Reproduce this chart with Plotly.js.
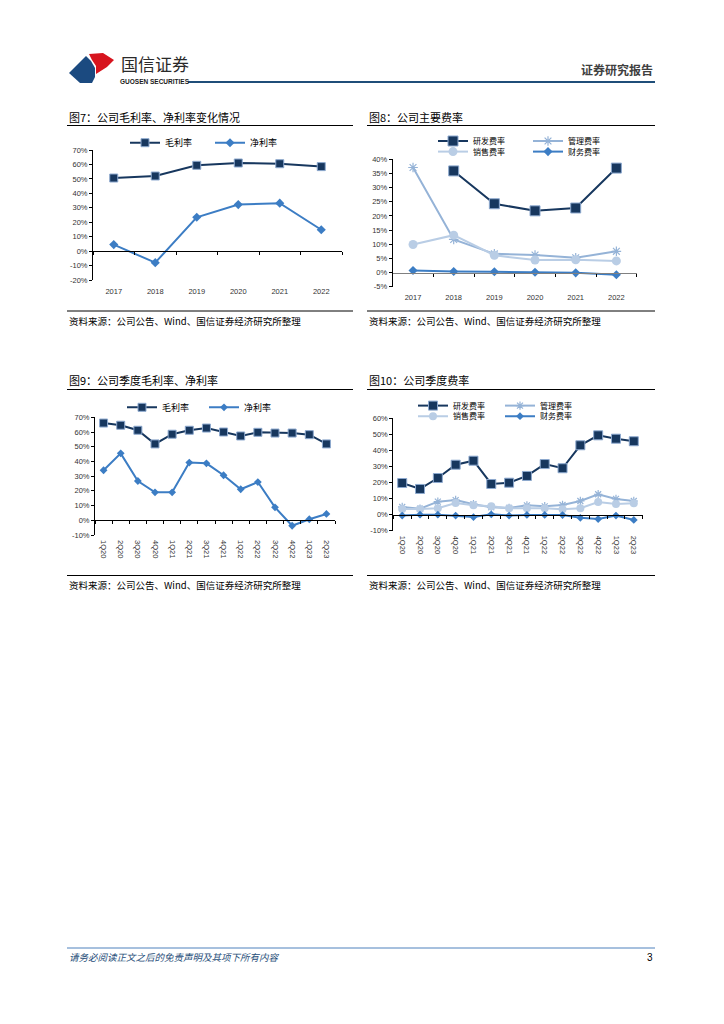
<!DOCTYPE html>
<html>
<head>
<meta charset="utf-8">
<script src="https://cdn.plot.ly/plotly-3.0.1.min.js"></script>
<style>
html,body{margin:0;padding:0;background:#fff;}
#chart{width:724px;height:1024px;}
</style>
</head>
<body>
<div id="chart"></div>
<script>
// ---------- data ----------
const years = ['2017', '2018', '2019', '2020', '2021', '2022'];
const grossMarginAnnual = [50.6, 52.0, 59.4, 61.0, 60.5, 58.5];
const netMarginAnnual = [4.5, -8.0, 23.4, 32.2, 33.2, 14.8];

const rdRateAnnual = [null, 35.9, 24.3, 21.8, 22.8, 36.9];
const adminRateAnnual = [37.1, 11.7, 6.6, 6.2, 5.2, 7.5];
const salesRateAnnual = [9.9, 13.2, 6.1, 4.4, 4.5, 4.1];
const finRateAnnual = [0.7, 0.35, 0.3, 0.1, -0.1, -0.8];

const quarters = ['1Q20', '2Q20', '3Q20', '4Q20', '1Q21', '2Q21', '3Q21', '4Q21', '1Q22', '2Q22', '3Q22', '4Q22', '1Q23', '2Q23'];
const grossMarginQ = [66.1, 64.6, 61.2, 51.9, 58.5, 61.2, 62.7, 60.0, 57.3, 59.8, 59.3, 59.3, 58.2, 51.9];
const netMarginQ = [34.0, 45.5, 26.7, 19.0, 19.0, 39.2, 38.7, 30.6, 21.1, 26.0, 8.8, -3.7, 0.7, 4.3];

const rdRateQ = [19.7, 16.0, 22.8, 31.1, 33.6, 19.1, 19.9, 24.1, 31.5, 28.9, 43.2, 49.4, 47.3, 45.7];
const adminRateQ = [4.8, 3.7, 8.1, 9.1, 6.5, 4.6, 4.2, 5.8, 5.2, 6.0, 8.5, 12.7, 9.8, 8.5];
const salesRateQ = [3.5, 3.5, 4.0, 7.3, 5.8, 5.2, 4.0, 4.0, 4.0, 3.4, 4.0, 7.9, 6.7, 7.1];
const finRateQ = [-0.6, 0.0, 0.0, -0.6, -1.5, 0.2, -0.6, -0.2, -0.2, -0.3, -2.0, -2.7, -0.6, -3.3];

const nameGross = '毛利率', nameNet = '净利率';
const nameRd = '研发费率', nameAdmin = '管理费率', nameSales = '销售费率', nameFin = '财务费率';

// ---------- helpers ----------
const W = 724, H = 1024;
const X = p => p / W;
const Y = p => 1 - p / H;
const CJK = '"Noto Sans CJK SC", "Noto Sans", sans-serif';
const NUM = '"Liberation Sans", Arial, sans-serif';

const NAVY = '#17375E', MID = '#3C7DC4', LIGHT = '#95B3D7', PALE = '#B9CDE5';

// chart frames (pixel)
const frames = [
  {x0: 93, x1: 342, top: 150, bot: 280, min: -20, max: 70, dt: 10, n: years.length},
  {x0: 392.7, x1: 636.7, top: 159.3, bot: 286.7, min: -5, max: 40, dt: 5, n: years.length},
  {x0: 95, x1: 335, top: 417.3, bot: 535, min: -10, max: 70, dt: 10, n: quarters.length},
  {x0: 393.3, x1: 642.7, top: 418.3, bot: 530.7, min: -10, max: 60, dt: 10, n: quarters.length}
];

const layout = {
  width: W, height: H,
  margin: {l: 0, r: 0, t: 0, b: 0},
  paper_bgcolor: '#fff', plot_bgcolor: 'rgba(0,0,0,0)',
  showlegend: true,
  hovermode: false,
  font: {family: CJK, color: '#000'},
  annotations: [], shapes: []
};

frames.forEach((f, i) => {
  const k = i === 0 ? '' : String(i + 1);
  const cats = i < 2 ? years : quarters;
  layout['xaxis' + k] = {
    domain: [X(f.x0), X(f.x1)], anchor: 'y' + k, type: 'category',
    categoryarray: cats, categoryorder: 'array',
    range: [-0.5, f.n - 0.5], showline: false, showgrid: false, zeroline: false,
    ticks: '', tickangle: i < 2 ? 0 : 90, ticklabelstandoff: i < 2 ? 5 : 4,
    tickfont: {family: NUM, size: 7.5, color: '#333'}, fixedrange: true
  };
  const tv = [];
  for (let v = f.min; v <= f.max + 1e-9; v += f.dt) tv.push(v);
  layout['yaxis' + k] = {
    domain: [Y(f.bot), Y(f.top)], anchor: 'x' + k, range: [f.min, f.max],
    tickvals: tv, ticktext: tv.map(v => v + '%'),
    showline: true, linecolor: '#000', linewidth: 1, ticks: 'outside', ticklen: 3, tickcolor: '#000',
    showgrid: false, zeroline: false,
    tickfont: {family: NUM, size: 7.5, color: '#333'}, fixedrange: true
  };
  // zero-line axis with boundary ticks
  const zeroPx = f.top + (f.max / (f.max - f.min)) * (f.bot - f.top);
  const bounds = [];
  for (let b = 0; b <= f.n; b++) bounds.push(b - 0.5);
  layout['xaxis' + (i + 5)] = {
    overlaying: 'x' + k, anchor: 'free', position: Y(zeroPx), type: 'linear',
    range: [-0.5, f.n - 0.5], tickvals: bounds, showticklabels: false,
    showline: true, linecolor: i === 1 ? '#808080' : '#000', linewidth: 1,
    ticks: 'outside', ticklen: 3, tickcolor: '#000', showgrid: false, zeroline: false, fixedrange: true
  };
});

// dummy traces to make zero axes exist
const data = [];
frames.forEach((f, i) => {
  const k = i === 0 ? '' : String(i + 1);
  data.push({x: [], y: [], xaxis: 'x' + (i + 5), yaxis: 'y' + k, showlegend: false, type: 'scatter', mode: 'lines'});
});

function line(name, cats, vals, ax, color, marker, leg) {
  return {
    type: 'scatter', mode: 'lines+markers', name: name, x: cats, y: vals,
    xaxis: 'x' + ax, yaxis: 'y' + ax, legend: leg,
    line: {color: color, width: 2}, marker: marker, cliponaxis: false
  };
}
const mkSquare = (s) => ({symbol: 'square', size: s, color: NAVY, line: {color: '#8DA9CF', width: 1}});
const mkDiamond = (s) => ({symbol: 'diamond', size: s, color: MID, line: {width: 0}});
const mkStar = (s) => ({symbol: 'asterisk-open', size: s, color: LIGHT, line: {color: LIGHT, width: 1.2}});
const mkCircle = (s) => ({symbol: 'circle', size: s, color: PALE, line: {width: 0}});

// Fig 7
data.push(line(nameGross, years, grossMarginAnnual, '', NAVY, mkSquare(8), 'legend'));
data.push(line(nameNet, years, netMarginAnnual, '', MID, mkDiamond(7), 'legend'));
// Fig 8
data.push(line(nameAdmin, years, adminRateAnnual, '2', LIGHT, mkStar(8), 'legend2'));
data.push(line(nameSales, years, salesRateAnnual, '2', PALE, mkCircle(9), 'legend3'));
data.push(line(nameFin, years, finRateAnnual, '2', MID, mkDiamond(7), 'legend3'));
data.push(line(nameRd, years, rdRateAnnual, '2', NAVY, mkSquare(10), 'legend2'));
// Fig 9
data.push(line(nameGross, quarters, grossMarginQ, '3', NAVY, mkSquare(8), 'legend4'));
data.push(line(nameNet, quarters, netMarginQ, '3', MID, mkDiamond(6), 'legend4'));
// Fig 10
data.push(line(nameAdmin, quarters, adminRateQ, '4', LIGHT, mkStar(7), 'legend5'));
data.push(line(nameSales, quarters, salesRateQ, '4', PALE, mkCircle(8), 'legend6'));
data.push(line(nameFin, quarters, finRateQ, '4', MID, mkDiamond(6), 'legend6'));
data.push(line(nameRd, quarters, rdRateQ, '4', NAVY, mkSquare(9), 'legend5'));

function legendAt(px, py, ew, fs) {
  return {
    orientation: 'h', x: X(px), y: Y(py), xanchor: 'left', yanchor: 'middle',
    bgcolor: 'rgba(0,0,0,0)', borderwidth: 0, font: {family: CJK, size: fs || 9, color: '#000'},
    itemwidth: 30, entrywidth: ew, entrywidthmode: 'pixels', traceorder: 'normal',
    itemclick: false, itemdoubleclick: false
  };
}
layout.legend = legendAt(125, 142.7, 40);
layout.legend2 = legendAt(433, 141, 50, 8);
layout.legend3 = legendAt(433, 151.6, 50, 8);
layout.legend4 = legendAt(122, 407.3, 37);
layout.legend5 = legendAt(413, 405.6, 42, 8);
layout.legend6 = legendAt(413, 416.2, 42, 8);

// reorder legend2/legend5 so 研发 shows first
layout.legend2.traceorder = 'reversed';
layout.legend5.traceorder = 'reversed';

// ---------- text & decoration ----------
function ann(text, px, py, size, extra) {
  layout.annotations.push(Object.assign({
    text: text, x: X(px), y: Y(py), xref: 'paper', yref: 'paper',
    xanchor: 'left', yanchor: 'middle', showarrow: false,
    font: {family: CJK, size: size, color: '#000'}
  }, extra || {}));
}
function hline(x0, x1, py, color, w) {
  layout.shapes.push({type: 'line', xref: 'paper', yref: 'paper', x0: X(x0), x1: X(x1), y0: Y(py), y1: Y(py),
    line: {color: color, width: w}});
}
function poly(pts, color) {
  const d = pts.map((p, j) => (j ? 'L' : 'M') + X(p[0]).toFixed(5) + ',' + Y(p[1]).toFixed(5)).join(' ') + ' Z';
  layout.shapes.push({type: 'path', xref: 'paper', yref: 'paper', path: d, fillcolor: color, line: {width: 0}});
}

// header
poly([[69, 73], [86, 56], [91, 61], [95, 68], [95, 77], [92, 83], [80, 83]], '#1B4A80');
poly([[89, 54], [103, 53], [114, 60], [107, 67], [96, 74], [96, 66], [92, 60]], '#D7141E');
ann('国信证券', 119, 63, 17, {font: {family: CJK, size: 17, color: '#2a2a2a'}});
ann('<b>GUOSEN SECURITIES</b>', 118, 81, 6.5, {font: {family: NUM, size: 6.5, color: '#1a1a1a'}});
ann('<b>证券研究报告</b>', 655, 69, 12, {xanchor: 'right', font: {family: CJK, size: 12, color: '#404040'}});
hline(188, 655, 82, '#1F4E79', 2);

// chart titles & sources
ann('图7：公司毛利率、净利率变化情况', 67, 117, 11);
ann('图8：公司主要费率', 367, 117, 11);
ann('图9：公司季度毛利率、净利率', 67, 380, 11);
ann('图10：公司季度费率', 367, 380, 11);
hline(67, 353, 125.5, '#000', 1);
hline(367, 655, 125.5, '#000', 1);
hline(67, 353, 389.5, '#000', 1);
hline(367, 655, 389.5, '#000', 1);
const src = '资料来源：公司公告、Wind、国信证券经济研究所整理';
hline(67, 353, 311, '#000', 1);
hline(367, 655, 311, '#000', 1);
hline(67, 353, 575.5, '#000', 1);
hline(367, 655, 575.5, '#000', 1);
ann(src, 67, 321, 9.5);
ann(src, 367, 321, 9.5);
ann(src, 67, 585, 9.5);
ann(src, 367, 585, 9.5);

// footer
hline(67, 655, 948, '#4F81BD', 1);
ann('<i>请务必阅读正文之后的免责声明及其项下所有内容</i>', 67, 957, 9.5, {font: {family: CJK, size: 9.5, color: '#1F4E79'}});
ann('3', 655, 957, 10, {xanchor: 'right', font: {family: NUM, size: 10, color: '#000'}});

Plotly.newPlot('chart', data, layout, {staticPlot: true, displayModeBar: false});
</script>
</body>
</html>
